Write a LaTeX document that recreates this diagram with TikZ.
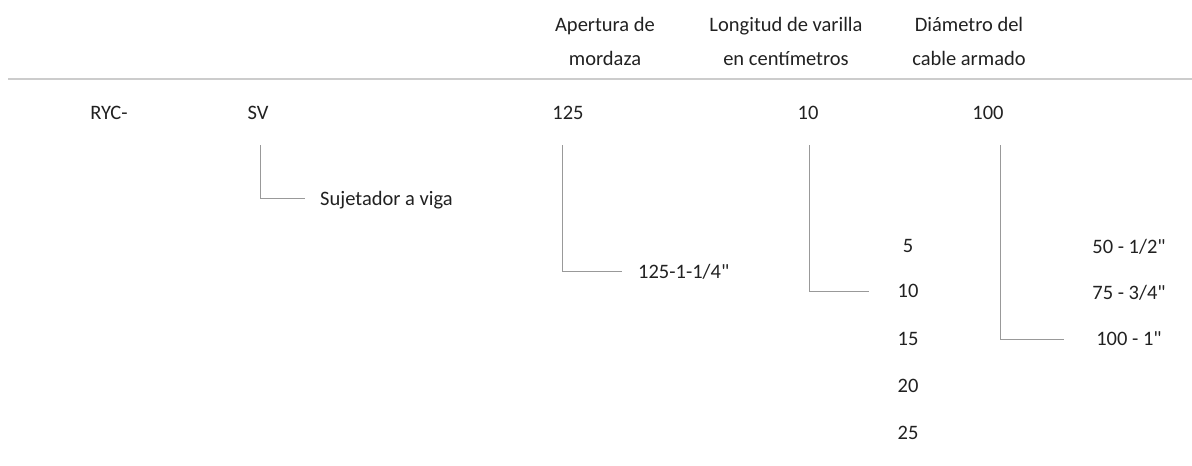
\documentclass[tikz,border=0pt]{standalone}
\usepackage{fontspec}
\setmainfont{Carlito}[Ligatures=TeXOff]
\usepackage{tikz}
\usepackage{color}
\definecolor{txtgray}{rgb}{0.13,0.13,0.13}
\definecolor{linkgray}{rgb}{0.6,0.6,0.6}
\definecolor{rulegray}{rgb}{0.8,0.8,0.8}

\begin{document}
\begin{tikzpicture}[x=1pt, y=-1pt,
    every node/.style={font=\fontsize{20.5}{34}\selectfont, text=txtgray, inner sep=0pt},
    link/.style={draw=linkgray, line width=1pt}]
    \useasboundingbox (0,0) rectangle (1192,466);
    % column heads
    \node[align=center] (hApertura) at (605,41) {Apertura de\\mordaza};
    \node[align=center] (hLongitud) at (786,41) {Longitud de varilla\\en centímetros};
    \node[align=center] (hDiametro) at (969,41) {Diámetro del\\cable armado};
    \coordinate (ruleL) at (8,79);
    \coordinate (ruleR) at (1192,79);
    \draw[rulegray, line width=1.6pt] (ruleL)--(ruleR); % the head line
    % code row
    \node[anchor=base] (ryc) at (109,119) {RYC-};
    \node[anchor=base] (sv) at (258,119) {SV};
    \node[anchor=base] (mordaza) at (568,119) {125};
    \node[anchor=base] (varilla) at (808,119) {10};
    \node[anchor=base] (cable) at (988,119) {100};
    % options
    \node[anchor=base west] (sujetador) at (320,205) {Sujetador a viga};
    \node[anchor=base west] (ap125) at (638,278) {125-1-1/4"};
    \foreach \v/\y in {5/246,10/291,15/339,20/386,25/433}
    \node (len\v) at (908,\y) {\v};
    \node (dia50) at (1129,247) {50 - 1/2"};
    \node (dia75) at (1129,293) {75 - 3/4"};
    \node (dia100) at (1129,339) {100 - 1"};
    % links
    \draw[link] ([xshift=2pt, yshift=-26pt]sv.base) |- ([xshift=-15pt, yshift=6.5pt]sujetador.base west);
    \draw[link] ([xshift=-6pt, yshift=-26pt]mordaza.base) |- ([xshift=-16pt, yshift=6.5pt]ap125.base west);
    \draw[link] ([xshift=1pt, yshift=-26pt]varilla.base) |- ([xshift=-28pt]len10.west);
    \draw[link] ([xshift=12pt, yshift=-26pt]cable.base) |- ([xshift=-32pt]dia100.west);
\end{tikzpicture}
\end{document}
